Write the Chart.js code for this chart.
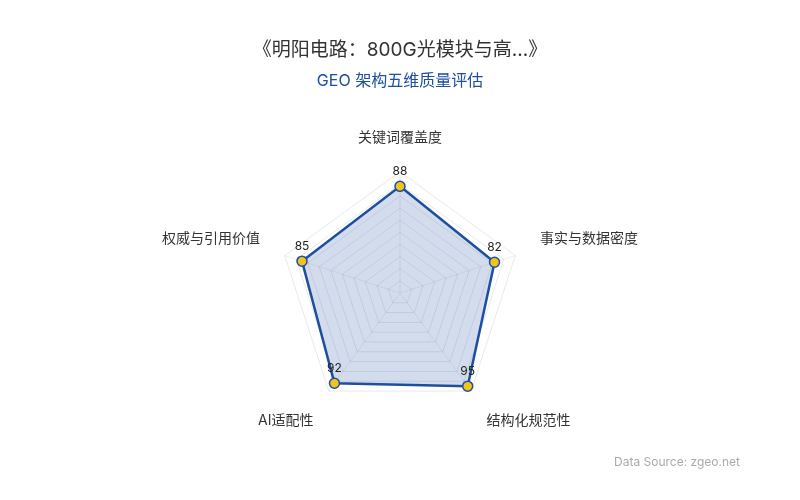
<!DOCTYPE html>
<html>
<head>
<meta charset="utf-8">
<script src="https://cdn.jsdelivr.net/npm/chart.js@4/dist/chart.umd.min.js"></script>
<style>
html,body{margin:0;padding:0;background:#fff}
#wrap{width:800px;height:500px}
</style>
</head>
<body>
<div id="wrap"><canvas id="c" width="800" height="500"></canvas></div>
<script>
var FONT="Inter, 'Noto Sans CJK SC', 'Noto Sans', sans-serif";
var titleText="《明阳电路：800G光模块与高...》";
var subtitleText="GEO 架构五维质量评估";
var sourceText="Data Source: zgeo.net";
var dims=["关键词覆盖度","事实与数据密度","结构化规范性","AI适配性","权威与引用价值"];
var scores=[88,82,95,92,85];

// value labels above each point
var valueLabels={
  id:"valueLabels",
  afterDatasetsDraw:function(chart){
    var ctx=chart.ctx,meta=chart.getDatasetMeta(0);
    ctx.save();
    ctx.font="12px "+FONT;
    ctx.fillStyle="#222";
    ctx.textAlign="center";
    ctx.textBaseline="bottom";
    meta.data.forEach(function(p,i){
      ctx.fillText(scores[i],p.x,p.y-9);
    });
    ctx.restore();
  }
};

var sourceNote={
  id:"sourceNote",
  afterDraw:function(chart){
    var ctx=chart.ctx;
    ctx.save();
    ctx.font="12px "+FONT;
    ctx.fillStyle="#aaa";
    ctx.textAlign="right";
    ctx.textBaseline="middle";
    ctx.fillText(sourceText,chart.width-60,chart.height-38);
    ctx.restore();
  }
};

new Chart(document.getElementById("c"),{
  type:"radar",
  data:{labels:dims,datasets:[{
    data:scores,
    borderColor:"#1d4ea0",
    backgroundColor:"rgba(29,78,160,0.2)",
    borderWidth:2.5,
    pointBackgroundColor:"#f2c31b",
    pointBorderColor:"#1d4ea0",
    pointBorderWidth:1.5,
    pointRadius:5
  }]},
  plugins:[valueLabels,sourceNote],
  options:{
    responsive:false,
    animation:false,
    layout:{padding:{top:20,bottom:59,left:0,right:0}},
    plugins:{
      legend:{display:false},
      tooltip:{enabled:false},
      title:{display:true,text:titleText,color:"#333",font:{family:FONT,size:19,weight:"normal"},padding:{top:19,bottom:10}},
      subtitle:{display:true,text:subtitleText,color:"#1d4ea0",font:{family:FONT,size:16},padding:{bottom:21}}
    },
    scales:{r:{
      min:0,max:100,
      ticks:{display:false,stepSize:10},
      grid:{color:"rgba(0,0,0,0.09)"},
      angleLines:{color:"rgba(0,0,0,0.07)"},
      pointLabels:{color:"#333",font:{family:FONT,size:14},padding:26}
    }}
  }
});
</script>
</body>
</html>
